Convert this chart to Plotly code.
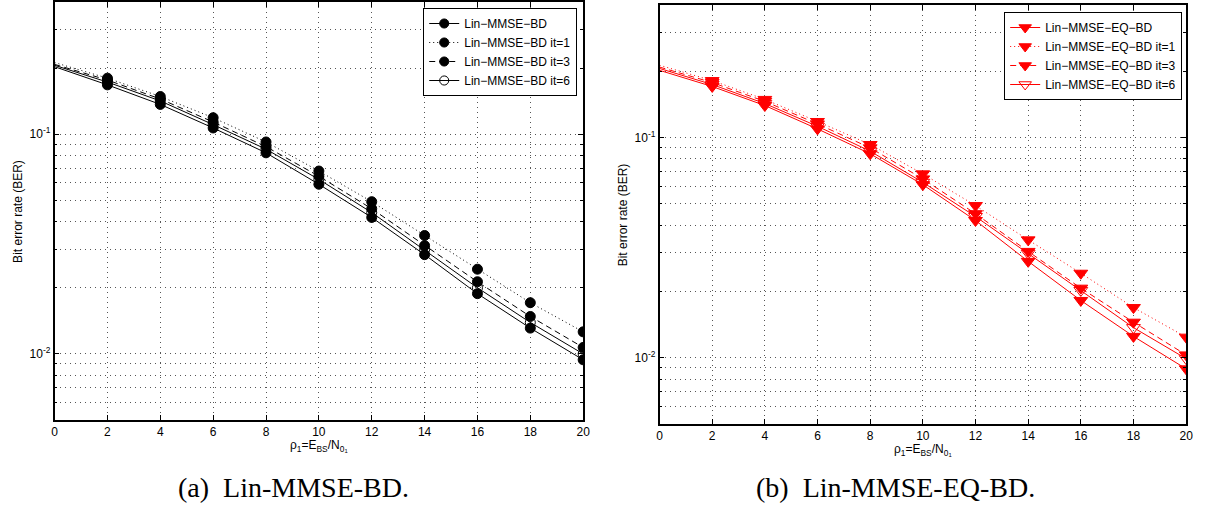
import plotly.graph_objects as go
import math

# ---------------- data ----------------
snr = [0, 2, 4, 6, 8, 10, 12, 14, 16, 18, 20]

# (a) Lin-MMSE-BD
a_bd  = [0.203, 0.1678, 0.1367, 0.1068, 0.0823, 0.0592, 0.0418, 0.0283, 0.0188, 0.0131, 0.0094]
a_it1 = [0.212, 0.1800, 0.1485, 0.1189, 0.0922, 0.0680, 0.0493, 0.0346, 0.0243, 0.0171, 0.0126]
a_it3 = [0.208, 0.1765, 0.1447, 0.1137, 0.0878, 0.0644, 0.0458, 0.0311, 0.0213, 0.0148, 0.0107]
a_it6 = [0.206, 0.1728, 0.1418, 0.1106, 0.0855, 0.0623, 0.0440, 0.0298, 0.0200, 0.0139, 0.0100]

# (b) Lin-MMSE-EQ-BD
b_bd  = [0.202, 0.1706, 0.1398, 0.1095, 0.0844, 0.0611, 0.0420, 0.0274, 0.0182, 0.0125, 0.0089]
b_it1 = [0.213, 0.1815, 0.1490, 0.1183, 0.0930, 0.0684, 0.0491, 0.0343, 0.0242, 0.0169, 0.0124]
b_it3 = [0.209, 0.1778, 0.1460, 0.1153, 0.0898, 0.0649, 0.0451, 0.0304, 0.0207, 0.0145, 0.0103]
b_it6 = [0.206, 0.1741, 0.1427, 0.1125, 0.0867, 0.0626, 0.0438, 0.0298, 0.0202, 0.0137, 0.0099]

names_a = ["Lin\u2212MMSE\u2212BD", "Lin\u2212MMSE\u2212BD it=1",
           "Lin\u2212MMSE\u2212BD it=3", "Lin\u2212MMSE\u2212BD it=6"]
names_b = ["Lin\u2212MMSE\u2212EQ\u2212BD", "Lin\u2212MMSE\u2212EQ\u2212BD it=1",
           "Lin\u2212MMSE\u2212EQ\u2212BD it=3", "Lin\u2212MMSE\u2212EQ\u2212BD it=6"]

xticks = [0, 2, 4, 6, 8, 10, 12, 14, 16, 18, 20]
ymajor = [0.01, 0.1]
ymajor_text = ["10<sup>-2</sup>", "10<sup>-1</sup>"]
yminor = [0.005, 0.006, 0.007, 0.008, 0.009,
          0.02, 0.03, 0.04, 0.05, 0.06, 0.07, 0.08, 0.09,
          0.2, 0.3]

captions = ["(a)  Lin-MMSE-BD.", "(b)  Lin-MMSE-EQ-BD."]
ytitle = "Bit error rate (BER)"
xtitle = "\u03c1<sub>1</sub>=E<sub>BS</sub>/N<sub>0<sub>1</sub></sub>"

# ---------------- figure ----------------
W, H = 1211, 512
fig = go.Figure()

styles = [("solid", "full"), ("1px,3px", "full"), ("6px,4px", "full"), ("solid", "open")]

def add_panel(series, names, color, sym, msize, xa, ya, leg):
    for vals, name, (dash, fill) in zip(series, names, styles):
        symbol = sym if fill == "full" else sym + "-open"
        sizes = [0] + [msize] * (len(snr) - 1)
        fig.add_trace(go.Scatter(
            x=snr, y=vals, name=name, mode="lines+markers",
            line=dict(color=color, width=1, dash=dash),
            marker=dict(symbol=symbol, size=sizes, color=color, opacity=1,
                        line=dict(color=color, width=1)),
            xaxis=xa, yaxis=ya, legend=leg))

add_panel([a_bd, a_it1, a_it3, a_it6], names_a, "black", "circle", 10, "x", "y", "legend")
add_panel([b_bd, b_it1, b_it3, b_it6], names_b, "#ff0000", "triangle-down", 12, "x2", "y2", "legend2")

gridc = "#555555"
tickfont = dict(family="Liberation Sans, Arial, sans-serif", size=12, color="black")

def xax(domain, anchor):
    return dict(domain=domain, anchor=anchor, range=[0, 20], tickvals=xticks,
                showgrid=True, gridcolor=gridc, griddash="1px,4px", gridwidth=1,
                ticks="inside", ticklen=5, tickcolor="black", mirror="allticks",
                showline=True, linecolor="black", linewidth=1.5, zeroline=False,
                tickfont=tickfont, fixedrange=True)

def yax(domain, anchor):
    return dict(domain=domain, anchor=anchor, type="log",
                range=[math.log10(0.005), math.log10(0.4)],
                tickvals=ymajor, ticktext=ymajor_text,
                showgrid=True, gridcolor=gridc, griddash="1px,4px", gridwidth=1,
                ticks="inside", ticklen=5, tickcolor="black", mirror="allticks",
                showline=True, linecolor="black", linewidth=1.5, zeroline=False,
                tickfont=tickfont, fixedrange=True,
                minor=dict(tickvals=yminor, ticks="inside", ticklen=3, tickcolor="black",
                           showgrid=True, gridcolor=gridc, griddash="1px,4px", gridwidth=1))

legfont = dict(family="Liberation Sans, Arial, sans-serif", size=12, color="black")

fig.update_layout(
    width=W, height=H, autosize=False,
    margin=dict(l=0, r=0, t=0, b=0),
    paper_bgcolor="white", plot_bgcolor="white",
    xaxis=xax([52 / W, 585 / W], "y"),
    yaxis=yax([1 - 420 / H, 1 - 2 / H], "x"),
    xaxis2=xax([662 / W, 1193 / W], "y2"),
    yaxis2=yax([1 - 424 / H, 1 - 5 / H], "x2"),
    legend=dict(x=579 / W, y=1 - 8 / H, xanchor="right", yanchor="top",
                bgcolor="white", bordercolor="black", borderwidth=1,
                font=legfont, tracegroupgap=0),
    legend2=dict(x=1189 / W, y=1 - 12 / H, xanchor="right", yanchor="top",
                 bgcolor="white", bordercolor="black", borderwidth=1,
                 font=legfont, tracegroupgap=0),
    showlegend=True,
)

def ann(text, x, y, font, angle=0, yanchor="middle"):
    fig.add_annotation(text=text, x=x / W, y=1 - y / H, xref="paper", yref="paper",
                       xanchor="center", yanchor=yanchor, textangle=angle,
                       showarrow=False, font=font)

annfont = dict(family="Liberation Sans, Arial, sans-serif", size=12, color="black")
# y titles
ann(ytitle, 15, 211, annfont, angle=-90)
ann(ytitle, 625, 214.5, annfont, angle=-90)
# x titles
xtfont = dict(family="Liberation Sans, Arial, sans-serif", size=12, color="black")
ann(xtitle, 318.5, 436, xtfont, yanchor="top")
ann(xtitle, 927.5, 440, xtfont, yanchor="top")
# captions
capfont = dict(family="Liberation Serif, Times New Roman, serif", size=28, color="black")
ann(captions[0], 293, 487, capfont)
ann(captions[1], 900, 487, capfont)

fig.write_html("out.html")
